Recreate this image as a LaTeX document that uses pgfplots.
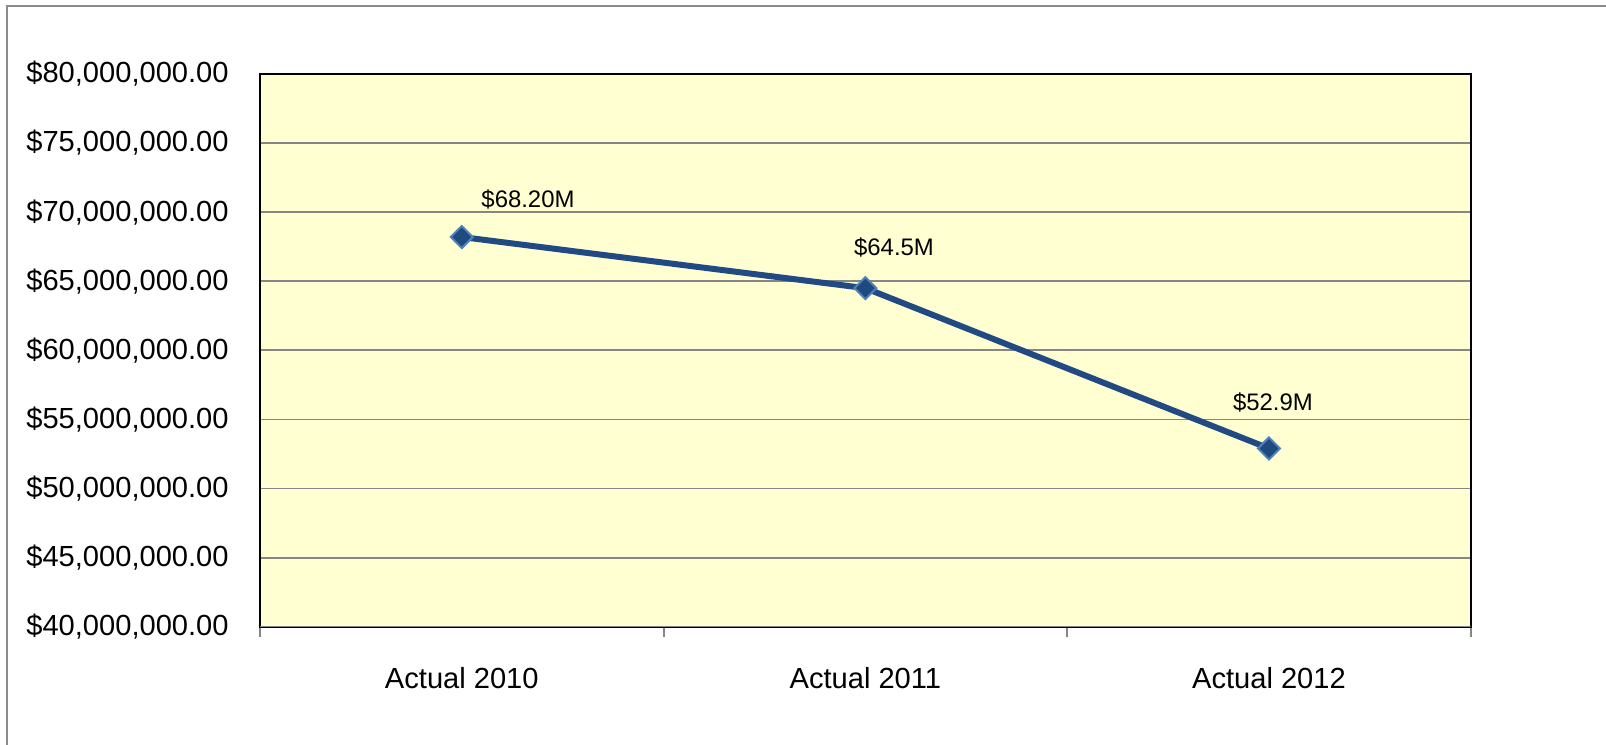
\documentclass[border=0pt]{standalone}
\usepackage{fontspec}
\setmainfont{Liberation Sans}
\usepackage{pgfplots}
\pgfplotsset{compat=1.18}
\definecolor{plotbg}{HTML}{FFFFD1}
\definecolor{linecol}{HTML}{214A84}
\definecolor{markfill}{HTML}{1F4A80}
\definecolor{markedge}{HTML}{4F81BD}
\definecolor{gridcol}{HTML}{868686}
\begin{document}
\begin{tikzpicture}[x=0.5bp,y=0.5bp]
\useasboundingbox (0,0) rectangle (1606,745);
% outer chart frame (only left and top edges fall inside the picture)
\draw[color=gray!90, line width=1bp] (7,-20) -- (7,739) -- (1630,739);
\begin{axis}[
  at={(130bp,59.15bp)}, anchor=south west,
  scale only axis, width=605.35bp, height=276.35bp,
  axis background/.style={fill=plotbg},
  axis line style={black, line width=1bp},
  xmin=0, xmax=3,
  ymin=40000000, ymax=80000000,
  xtick={0.5,1.5,2.5},
  xticklabels={Actual 2010, Actual 2011, Actual 2012},
  minor xtick={0,1,2,3},
  xtick pos=lower, ytick pos=left,
  tick align=outside,
  major tick length=0pt,
  minor tick length=5bp,
  minor tick style={gridcol, line width=1bp},
  ytick={40000000,45000000,50000000,55000000,60000000,65000000,70000000,75000000,80000000},
  yticklabels={{\$40,000,000.00},{\$45,000,000.00},{\$50,000,000.00},{\$55,000,000.00},{\$60,000,000.00},{\$65,000,000.00},{\$70,000,000.00},{\$75,000,000.00},{\$80,000,000.00}},
  scaled y ticks=false,
  ymajorgrids,
  major grid style={color=gridcol, line width=0.9bp},
  tick label style={font=\fontsize{14.6}{17}\selectfont, inner sep=0pt},
  yticklabel style={anchor=east, xshift=-15.5bp},
  xticklabel style={anchor=north, yshift=-20bp},
]
\addplot[color=linecol, line width=3bp, mark=square*,
  mark size=3.9bp,
  mark options={rotate=45, fill=markfill, draw=markedge, line width=1bp}]
  coordinates {(0.5,68200000) (1.5,64500000) (2.5,52900000)};
% data labels
\addplot[draw=none, mark=none, nodes near coords, point meta=explicit symbolic,
  every node near coord/.append style={anchor=center, inner sep=0pt,
    font=\fontsize{12}{14}\selectfont, text=black}]
  coordinates {(0.664,70890000) [\$68.20M] (1.571,67410000) [\$64.5M] (2.510,56200000) [\$52.9M]};
\draw[gridcol, line width=1bp] (rel axis cs:0,0) -- (rel axis cs:1,0);
\end{axis}
\end{tikzpicture}
\end{document}
